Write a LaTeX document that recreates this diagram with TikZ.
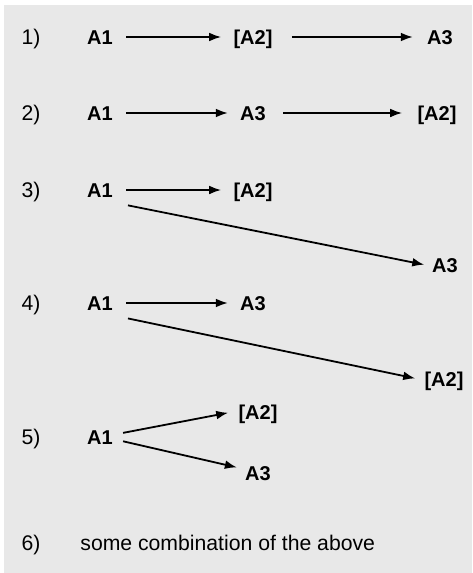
\documentclass[tikz,border=0pt]{standalone}
\usepackage{fontspec}
\setmainfont{Liberation Sans}
\usepackage{xcolor}
\usetikzlibrary{arrows.meta}
\definecolor{bggray}{RGB}{232,232,232}

\begin{document}
\begin{tikzpicture}[
        x=0.5pt, y=-0.5pt,
        item/.style={font=\bfseries\fontsize{10}{12}\selectfont, inner sep=3pt,
                     text height=7.2pt, text depth=0pt},
        num/.style={font=\fontsize{10.6}{12}\selectfont, inner sep=0pt,
                    text height=7.6pt, text depth=0pt},
        arr/.style={-{Latex[length=6pt,width=4.4pt]}, line width=0.9pt,
                    shorten <=3.5pt, shorten >=3pt}
    ]
        \useasboundingbox (0,0) rectangle (472,573);
        \fill[bggray] (4,5) rectangle (472,573);

        \node[num] (n1) at (31, 37)  {1)};
        \node[num] (n2) at (31, 113) {2)};
        \node[num] (n3) at (31, 190) {3)};
        \node[num] (n4) at (31, 303) {4)};
        \node[num] (n5) at (31, 437) {5)};
        \node[num] (n6) at (31, 543) {6)};

        \node[item] (a1r1) at (100, 37)  {A1};
        \node[item] (a2r1) at (253, 37)  {[A2]};
        \node[item] (a3r1) at (440, 37)  {A3};

        \node[item] (a1r2) at (100, 113) {A1};
        \node[item] (a3r2) at (253, 113) {A3};
        \node[item] (a2r2) at (437, 113) {[A2]};

        \node[item] (a1r3) at (100, 190) {A1};
        \node[item] (a2r3) at (253, 190) {[A2]};
        \node[item] (a3r3) at (445, 265) {A3};

        \node[item] (a1r4) at (100, 303) {A1};
        \node[item] (a3r4) at (253, 303) {A3};
        \node[item] (a2r4) at (444, 379) {[A2]};

        \node[item] (a1r5) at (100, 437) {A1};
        \node[item] (a2r5) at (258, 412) {[A2]};
        \node[item] (a3r5) at (258, 473) {A3};

        \node[num, anchor=west] (combo) at (80, 543) {some combination of the above};

        \draw[arr] (a1r1) -- (a2r1);
        \draw[arr, shorten <=6.5pt, shorten >=4pt] (a2r1) -- (a3r1);

        \draw[arr] (a1r2) -- (a3r2);
        \draw[arr, shorten <=5.5pt, shorten >=4.5pt] (a3r2) -- (a2r2);

        \draw[arr] (a1r3) -- (a2r3);
        \draw[arr, shorten <=4.5pt, shorten >=0.8pt] (a1r3.south east) -- (a3r3.west);

        \draw[arr] (a1r4) -- (a3r4);
        \draw[arr, shorten <=4.5pt, shorten >=1.5pt] (a1r4.south east) -- (a2r4.west);

        \draw[arr, shorten <=2pt, shorten >=2pt] (a1r5.10) -- (a2r5.west);
        \draw[arr, shorten <=2pt, shorten >=1pt] (a1r5.-10) -- (a3r5.165);
    \end{tikzpicture}
\end{document}
